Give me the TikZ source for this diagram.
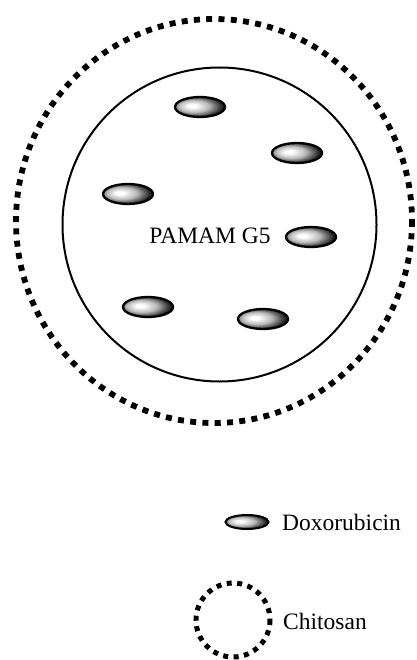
\documentclass[tikz,border=0pt]{standalone}
\usepackage{fontspec}
\setmainfont{Liberation Serif}
\usetikzlibrary{shapes.geometric}

\pgfdeclareradialshading{drugshade}{\pgfpoint{-9bp}{3bp}}{%
  color(0bp)=(white); color(4bp)=(white); color(15bp)=(gray!55);
  color(26bp)=(black!85); color(38bp)=(black); color(50bp)=(black)}

\tikzset{
  drug/.style={draw, ellipse, line width=2.3pt, inner sep=0pt,
    minimum width=50pt, minimum height=20pt, shading=drugshade},
  chitosan/.style={line width=5.8pt, dash pattern=on 6pt off 6.3pt},
  label/.style={font=\fontsize{23.5}{28}\selectfont, inner sep=0pt}
}

\begin{document}
\begin{tikzpicture}[x=1pt, y=-1pt]
  \useasboundingbox (0,0) rectangle (416,660);

  % Chitosan shell
  \draw[chitosan] (214,221) ellipse (198 and 202);

  % PAMAM dendrimer
  \draw[line width=2pt] (219.5,224.5) circle (157);
  \node[label] (pamam) at (210,236) {PAMAM G5};

  % Doxorubicin molecules
  \node[drug] (d1) at (200,107) {};
  \node[drug] (d2) at (297,153) {};
  \node[drug] (d3) at (128,194) {};
  \node[drug] (d4) at (311,237) {};
  \node[drug] (d5) at (148,307) {};
  \node[drug] (d6) at (263,319) {};

  % Legend
  \node[drug, minimum width=43pt, minimum height=14pt, line width=2pt] (dox) at (247,522) {};
  \node[label, anchor=west] (doxtxt) at (282,522) {Doxorubicin};
  \draw[chitosan, line width=5pt, dash pattern=on 5pt off 5.5pt] (233,620) circle (37);
  \node[label, anchor=west] (chitxt) at (283,621) {Chitosan};
\end{tikzpicture}
\end{document}
